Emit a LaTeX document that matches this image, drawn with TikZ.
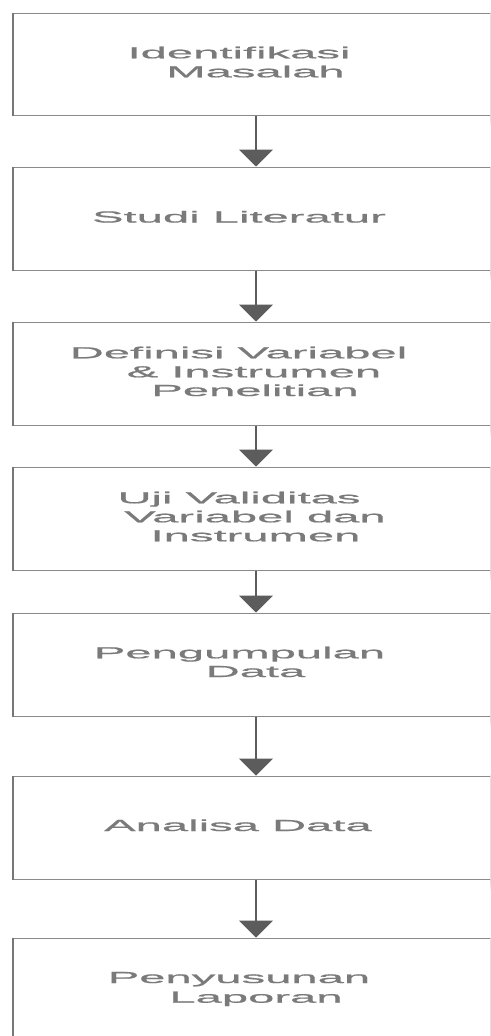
\documentclass[tikz,border=0pt]{standalone}
\usepackage{fontspec}
\setmainfont{Liberation Sans}
\newfontfamily\widefont[FakeStretch=2.95,FakeBold=0.9]{Liberation Sans}
\usetikzlibrary{arrows.meta,backgrounds}
\definecolor{boxline}{HTML}{8A8A8A}
\definecolor{boxleft}{HTML}{777777}
\definecolor{txtgray}{HTML}{7A7A7A}
\definecolor{arrgray}{HTML}{5C5C5C}
\tikzset{
  stepbox/.style={draw=boxline, line width=1pt, fill=white, minimum width=486pt, minimum height=103pt, inner sep=0pt},
  leftedge/.style={draw=boxleft, line width=2pt},
  txt/.style={text=txtgray, font=\widefont\fontsize{16}{19}\selectfont, anchor=base, inner sep=0pt},
  conn/.style={draw=arrgray, line width=2pt, -{Triangle[width=34pt,length=17pt]}},
}
\begin{document}
\begin{tikzpicture}[x=1pt,y=-1pt]
\useasboundingbox (0,0) rectangle (490,1036);
\clip (0,0) rectangle (490,1036);
\fill[white] (0,0) rectangle (490,1036);

\node[stepbox] (b1) at (256,64) [minimum height=102pt] {};
\node[stepbox] (b2) at (256,218.5) {};
\node[stepbox] (b3) at (256,373.5) {};
\node[stepbox] (b4) at (256,518.5) {};
\node[stepbox] (b5) at (256,664.5) {};
\node[stepbox] (b6) at (256,827.5) {};
\node[stepbox] (b7) at (256,989.5) {};

\begin{scope}[on background layer]
\foreach \b in {b1,b2,b3,b4,b5,b6,b7}{
  \foreach \k in {1,...,6}{
    \fill[black,opacity=0.022] ([xshift=-1.8*\k pt, yshift=0.3*\k pt-1pt]\b.north west) rectangle ([xshift=0pt, yshift=-2pt-1.5*\k pt]\b.south east);
  }
}
\end{scope}

\foreach \b in {b1,b2,b3,b4,b5,b6,b7}{
  \draw[leftedge] (\b.north west) -- (\b.south west);
}

\node[txt] (t1a) at (239,58.3) {Identifikasi};
\node[txt] (t1b) at (255.5,77.3) {Masalah};
\node[txt] (t2) at (239,222.5) {Studi Literatur};
\node[txt] (t3a) at (238.5,358.3) {Definisi Variabel};
\node[txt] (t3b) at (254,377.3) {\& Instrumen};
\node[txt] (t3c) at (255,396) {Penelitian};
\node[txt] (t4a) at (239,503.3) {Uji Validitas};
\node[txt] (t4b) at (255,522.3) {Variabel dan};
\node[txt] (t4c) at (255.5,541.3) {Instrumen};
\node[txt] (t5a) at (239.5,658.3) {Pengumpulan};
\node[txt] (t5b) at (255.5,677) {Data};
\node[txt] (t6) at (238,831) {Analisa Data};
\node[txt] (t7a) at (239,983) {Penyusunan};
\node[txt] (t7b) at (256,1002.7) {Laporan};

\draw[conn] (b1.south) -- (b2.north);
\draw[conn] (b2.south) -- (b3.north);
\draw[conn] (b3.south) -- (b4.north);
\draw[conn] (b4.south) -- (b5.north);
\draw[conn] (b5.south) -- (b6.north);
\draw[conn] (b6.south) -- (b7.north);
\end{tikzpicture}
\end{document}
